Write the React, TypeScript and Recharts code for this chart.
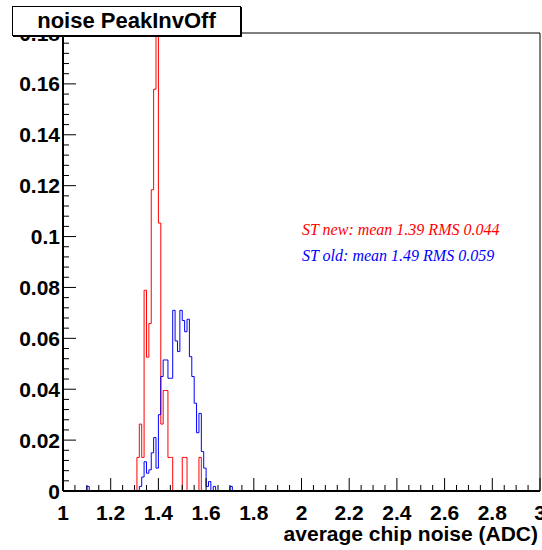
import React from "react";
import { LineChart, Line, XAxis, YAxis, ReferenceArea } from "recharts";

// histogram bins are 0.01 wide, listed by their low edge
const redBinLow = [1.31, 1.32, 1.33, 1.34, 1.35, 1.36, 1.37, 1.38, 1.39, 1.4, 1.41, 1.42, 1.43, 1.44, 1.45, 1.5, 1.51, 1.57];
const redValue = [0.0132, 0.0263, 0.0132, 0.0789, 0.0526, 0.0658, 0.1184, 0.1579, 0.1974, 0.1053, 0.0263, 0.0395, 0.0395, 0.0132, 0.0132, 0.0132, 0.0132, 0.0132];

const blueBinLow = [1.1, 1.32, 1.33, 1.34, 1.35, 1.36, 1.37, 1.38, 1.39, 1.4, 1.41, 1.42, 1.43, 1.44, 1.45, 1.46, 1.47, 1.48, 1.49, 1.5, 1.51, 1.52, 1.53, 1.54, 1.55, 1.56, 1.57, 1.58, 1.59, 1.6, 1.61, 1.63, 1.7];
const blueValue = [0.0018, 0.0018, 0.0055, 0.0115, 0.007, 0.0083, 0.015, 0.021, 0.009, 0.03, 0.045, 0.0515, 0.0515, 0.0443, 0.0443, 0.071, 0.059, 0.0548, 0.071, 0.067, 0.0626, 0.0675, 0.0528, 0.045, 0.0345, 0.0229, 0.0305, 0.0155, 0.009, 0.0018, 0.0037, 0.0018, 0.0018];

const xMajorTicks = [1, 1.2, 1.4, 1.6, 1.8, 2, 2.2, 2.4, 2.6, 2.8, 3];
const yMajorTicks = [0, 0.02, 0.04, 0.06, 0.08, 0.1, 0.12, 0.14, 0.16, 0.18];

const redText = "ST new: mean 1.39 RMS 0.044";
const blueText = "ST old: mean 1.49 RMS 0.059";
const title = "noise PeakInvOff";
const xTitle = "average chip noise (ADC)";

const key = (v: number) => v.toFixed(2);
const redMap = new Map(redBinLow.map((b, i) => [key(b), redValue[i]]));
const blueMap = new Map(blueBinLow.map((b, i) => [key(b), blueValue[i]]));

// bin edges from 1.00 to 3.00
const data = Array.from({ length: 201 }, (_, i) => {
  const x = Number((1 + i * 0.01).toFixed(2));
  return { x, red: redMap.get(key(x)) ?? 0, blue: blueMap.get(key(x)) ?? 0 };
});

const xTicks = Array.from({ length: 41 }, (_, i) => Number((1 + i * 0.05).toFixed(2)));
const yTicks = Array.from({ length: 46 }, (_, i) => Number((i * 0.004).toFixed(3)));

const FONT = "'Liberation Sans', Arial, Helvetica, sans-serif";
const SERIF = "'Liberation Serif', 'Times New Roman', serif";

const isMajor = (v: number, list: number[]) => list.some((t) => Math.abs(t - v) < 1e-6);

const XTick = (props: any) => {
  const { x, y, payload } = props;
  const v = payload.value as number;
  const major = isMajor(v, xMajorTicks);
  return (
    <g>
      <line x1={x} x2={x} y1={y} y2={y - (major ? 13 : 6)} stroke="#000" strokeWidth={1} />
      {major && (
        <text x={x} y={y + 29} textAnchor="middle" fontFamily={FONT} fontWeight="bold" fontSize={21} fill="#000">
          {String(v)}
        </text>
      )}
    </g>
  );
};

const YTick = (props: any) => {
  const { x, y, payload } = props;
  const v = payload.value as number;
  const major = isMajor(v, yMajorTicks);
  return (
    <g>
      <line x1={x} x2={x + (major ? 13 : 6)} y1={y} y2={y} stroke="#000" strokeWidth={1} />
      {major && (
        <text x={x - 3} y={y} dy="0.36em" textAnchor="end" fontFamily={FONT} fontWeight="bold" fontSize={21} fill="#000">
          {String(v)}
        </text>
      )}
    </g>
  );
};

export default function App() {
  return (
    <div style={{ position: "absolute", left: 0, top: 0, width: 542, height: 550, background: "#fff" }}>
      <LineChart width={542} height={550} data={data} margin={{ top: 33, right: 2, left: 0, bottom: 0 }}>
        <ReferenceArea x1={1} x2={3} y1={0} y2={0.18} fill="none" stroke="#000" strokeWidth={1} fillOpacity={0} />
        <XAxis
          dataKey="x"
          type="number"
          domain={[1, 3]}
          ticks={xTicks}
          interval={0}
          height={59}
          tickLine={false}
          tickSize={0}
          tickMargin={0}
          axisLine={{ stroke: "#000", strokeWidth: 2 }}
          tick={<XTick />}
          allowDataOverflow
        />
        <YAxis
          type="number"
          domain={[0, 0.18]}
          ticks={yTicks}
          interval={0}
          width={63}
          tickLine={false}
          tickSize={0}
          tickMargin={0}
          axisLine={{ stroke: "#000", strokeWidth: 2 }}
          tick={<YTick />}
          allowDataOverflow
        />
        <Line dataKey="red" type="stepAfter" stroke="#ff0000" strokeWidth={1} dot={false} isAnimationActive={false} />
        <Line dataKey="blue" type="stepAfter" stroke="#0000ff" strokeWidth={1} dot={false} isAnimationActive={false} />
      </LineChart>
      <div
        style={{
          position: "absolute",
          left: 12,
          top: 6,
          width: 227,
          height: 28,
          border: "1px solid #000",
          boxShadow: "1px 1px 0 #000",
          background: "#fff",
          fontFamily: FONT,
          fontWeight: "bold",
          fontSize: 22,
          lineHeight: "28px",
          textAlign: "center",
        }}
      >
        {title}
      </div>
      <div style={{ position: "absolute", left: 302, top: 221, color: "#ff0000", fontFamily: SERIF, fontStyle: "italic", fontSize: 16, whiteSpace: "nowrap" }}>
        {redText}
      </div>
      <div style={{ position: "absolute", left: 302, top: 247, color: "#0000ff", fontFamily: SERIF, fontStyle: "italic", fontSize: 16, whiteSpace: "nowrap" }}>
        {blueText}
      </div>
      <div style={{ position: "absolute", right: 4, top: 522, fontFamily: FONT, fontWeight: "bold", fontSize: 21, whiteSpace: "nowrap" }}>
        {xTitle}
      </div>
    </div>
  );
}
